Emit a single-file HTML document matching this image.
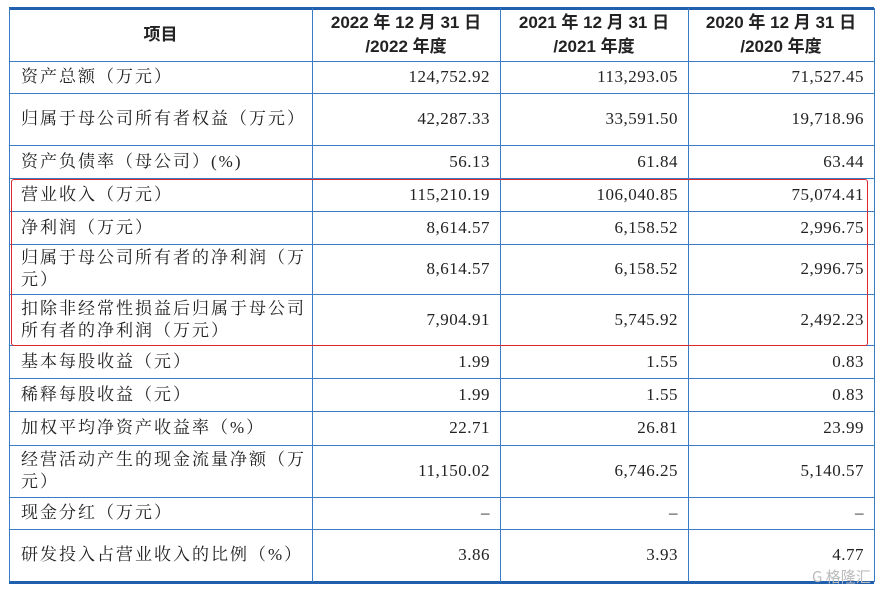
<!DOCTYPE html>
<html><head><meta charset="utf-8">
<style>
body{margin:0;width:884px;height:595px;background:#fff;position:relative;overflow:hidden;font-family:"Liberation Serif","Noto Serif CJK SC",serif;color:#222;}
.c{position:absolute;box-sizing:border-box;font-size:17px;line-height:22px;}
.lab{padding-left:12px;letter-spacing:2px;display:flex;align-items:center;}
.num{padding-right:10px;display:flex;align-items:center;justify-content:flex-end;letter-spacing:0.5px;}
.hl{position:absolute;left:9px;width:865px;height:1px;background:#3a7cc4;}
.vl{position:absolute;top:8px;width:1px;height:574px;background:#3a7cc4;}
.hd{font-family:"Liberation Sans","Noto Sans CJK SC",sans-serif;font-weight:bold;font-size:17px;text-align:center;display:flex;align-items:center;justify-content:center;line-height:24px;}
</style></head><body>
<div id="t"></div>
<div style="position:absolute;left:11px;top:179px;width:857px;height:167px;border:1.5px solid #e0262a;border-radius:3px;box-sizing:border-box;"></div>
<div style="position:absolute;left:812px;top:566px;font-family:'Noto Sans CJK SC',sans-serif;font-size:15px;color:#bbb;">G 格隆汇</div>
<script>
const rowsY=[8,61,93,145,178,211,244,294,345,378,411,445,497,529,581];
const colsX=[9,312,500,688,874];
const labels=["资产总额（万元）","归属于母公司所有者权益（万元）","资产负债率（母公司）(%)","营业收入（万元）","净利润（万元）","归属于母公司所有者的净利润（万元）","扣除非经常性损益后归属于母公司所有者的净利润（万元）","基本每股收益（元）","稀释每股收益（元）","加权平均净资产收益率（%）","经营活动产生的现金流量净额（万元）","现金分红（万元）","研发投入占营业收入的比例（%）"];
const v2022=["124,752.92","42,287.33","56.13","115,210.19","8,614.57","8,614.57","7,904.91","1.99","1.99","22.71","11,150.02","–","3.86"];
const v2021=["113,293.05","33,591.50","61.84","106,040.85","6,158.52","6,158.52","5,745.92","1.55","1.55","26.81","6,746.25","–","3.93"];
const v2020=["71,527.45","19,718.96","63.44","75,074.41","2,996.75","2,996.75","2,492.23","0.83","0.83","23.99","5,140.57","–","4.77"];
const heads=["项目","2022 年 12 月 31 日<br>/2022 年度","2021 年 12 月 31 日<br>/2021 年度","2020 年 12 月 31 日<br>/2020 年度"];
const t=document.getElementById('t');
function cell(cls,x,y,w,h,html,name){const d=document.createElement('div');d.className='c '+cls;d.style.left=x+'px';d.style.top=y+'px';d.style.width=w+'px';d.style.height=h+'px';d.innerHTML=html;


t.appendChild(d);}
heads.forEach((h,i)=>cell('hd',colsX[i],rowsY[0],colsX[i+1]-colsX[i],rowsY[1]-rowsY[0],h,'header-cell'));
const cols=[v2022,v2021,v2020];
labels.forEach((l,r)=>{const y=rowsY[r+1],h=rowsY[r+2]-y;
cell('lab',colsX[0],y,colsX[1]-colsX[0],h,'<span style="width:285px">'+l+'</span>','row-label');
cols.forEach((c,i)=>cell('num',colsX[i+1],y,colsX[i+2]-colsX[i+1],h,c[r],'value-cell'));});
rowsY.forEach((y,i)=>{const d=document.createElement('div');d.className='hl';d.style.top=y+'px';if(i==0||i==rowsY.length-1){d.style.height='3px';d.style.background='#1f5fae';d.style.top=(i==0?y-1:y)+'px';}


t.appendChild(d);});
colsX.forEach(x=>{const d=document.createElement('div');d.className='vl';d.style.left=x+'px';


t.appendChild(d);});
</script>
</body></html>
